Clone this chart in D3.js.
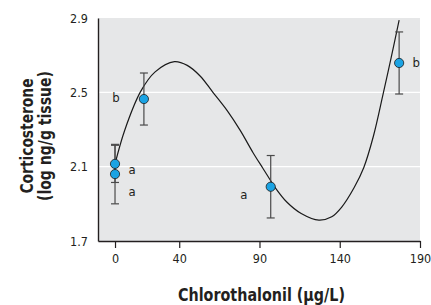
<!DOCTYPE html>
<html>
<head>
<meta charset="utf-8">
<script src="https://cdn.jsdelivr.net/npm/d3@7"></script>
<style>
  body { margin: 0; background: #fff; }
  svg text { font-family: "DejaVu Sans Condensed", "DejaVu Sans", sans-serif !important; font-stretch: condensed; }
</style>
</head>
<body>
<div id="chart"></div>
<script>
// measured points (mean +/- error) and group letters
var doseValues = [0, 0, 18, 97, 177];
var corticoValues = [2.115, 2.06, 2.464, 1.992, 2.658];
var errorValues = [0.10, 0.16, 0.14, 0.168, 0.167];
var groupLetters = ["a", "a", "b", "a", "b"];

// fitted curve
var curveDose = [0, 6, 16, 25, 37, 45, 53, 61, 70, 78, 86, 92, 100, 107, 116, 127, 135, 141, 149, 155, 161, 167, 172, 177];
var curveCortico = [2.115, 2.295, 2.505, 2.61, 2.665, 2.645, 2.588, 2.50, 2.40, 2.295, 2.175, 2.093, 1.985, 1.91, 1.848, 1.812, 1.83, 1.88, 1.988, 2.096, 2.265, 2.49, 2.685, 2.889];

var xTicks = [0, 40, 90, 140, 190];
var yTicks = [1.7, 2.1, 2.5, 2.9];

function drawChart(){
  'use strict';
  var width = 431;
  var height = 305;
  var margin = {top: 18, right: 11, bottom: 64, left: 98};
  var w = width - margin.left - margin.right;
  var h = height - margin.top - margin.bottom;

  var svg = d3.select('#chart')
    .append('svg')
    .attr('width', width)
    .attr('height', height);

  var g = svg.append('g')
    .attr('transform', 'translate(' + margin.left + ',' + margin.top + ')');

  var x = d3.scaleLinear().domain([-10.6, 190]).range([0, w]);
  var y = d3.scaleLinear().domain([1.7, 2.9]).range([h, 0]);

  // grey panel
  g.append('rect')
    .attr('width', w)
    .attr('height', h)
    .attr('fill', '#e6e7e8');

  // white gridlines
  g.selectAll('.grid')
    .data([2.1, 2.5])
    .enter().append('line')
    .attr('x1', 0).attr('x2', w)
    .attr('y1', function(d){ return y(d); })
    .attr('y2', function(d){ return y(d); })
    .attr('stroke', '#fff')
    .attr('stroke-width', 1.2);

  // x axis
  var xAxis = g.append('g')
    .attr('transform', 'translate(0,' + h + ')')
    .call(d3.axisBottom(x).tickValues(xTicks).tickSize(7).tickPadding(6).tickSizeOuter(0));
  xAxis.select('.domain').attr('stroke', '#231f20').attr('stroke-width', 1.4);
  xAxis.selectAll('.tick line').attr('stroke', '#231f20').attr('stroke-width', 1.2);
  xAxis.selectAll('.tick text')
    .attr('font-size', '12.5px')
    .attr('fill', '#231f20');

  // y axis (no tick marks)
  var yAxis = g.append('g')
    .call(d3.axisLeft(y).tickValues(yTicks).tickSize(0).tickPadding(10).tickFormat(d3.format('.1f')).tickSizeOuter(0));
  yAxis.select('.domain').attr('stroke', '#231f20').attr('stroke-width', 1.4);
  yAxis.selectAll('.tick text')
    .attr('font-size', '12.5px')
    .attr('fill', '#231f20');

  // fitted curve
  var curveData = curveDose.map(function(d, i){ return {x: d, y: curveCortico[i]}; });
  var line = d3.line()
    .x(function(d){ return x(d.x); })
    .y(function(d){ return y(d.y); })
    .curve(d3.curveCatmullRom.alpha(0.5));
  g.append('path')
    .datum(curveData)
    .attr('d', line)
    .attr('fill', 'none')
    .attr('stroke', '#1a1a1a')
    .attr('stroke-width', 1.2);

  var points = doseValues.map(function(d, i){
    return {x: d, y: corticoValues[i], e: errorValues[i], label: groupLetters[i]};
  });

  // error bars
  var capW = 4;
  var bars = g.selectAll('.err')
    .data(points)
    .enter().append('g')
    .attr('class', 'err')
    .attr('stroke', '#4a4a4a')
    .attr('stroke-width', 1.2);
  bars.append('line')
    .attr('x1', function(d){ return x(d.x); })
    .attr('x2', function(d){ return x(d.x); })
    .attr('y1', function(d){ return y(d.y + d.e); })
    .attr('y2', function(d){ return y(d.y - d.e); });
  bars.append('line')
    .attr('x1', function(d){ return x(d.x) - capW; })
    .attr('x2', function(d){ return x(d.x) + capW; })
    .attr('y1', function(d){ return y(d.y + d.e); })
    .attr('y2', function(d){ return y(d.y + d.e); });
  bars.append('line')
    .attr('x1', function(d){ return x(d.x) - capW; })
    .attr('x2', function(d){ return x(d.x) + capW; })
    .attr('y1', function(d){ return y(d.y - d.e); })
    .attr('y2', function(d){ return y(d.y - d.e); });

  // points
  g.selectAll('.pt')
    .data(points)
    .enter().append('circle')
    .attr('cx', function(d){ return x(d.x); })
    .attr('cy', function(d){ return y(d.y); })
    .attr('r', 4.6)
    .attr('fill', '#1ba3e3')
    .attr('stroke', '#1a1a1a')
    .attr('stroke-width', 0.8);

  // group letters, offsets in pixels from each point
  var labelDx = [17, 17, -28, -27, 17];
  var labelDy = [10, 22, 3, 12, 4];
  g.selectAll('.lbl')
    .data(points)
    .enter().append('text')
    .attr('x', function(d, i){ return x(d.x) + labelDx[i]; })
    .attr('y', function(d, i){ return y(d.y) + labelDy[i]; })
    .attr('text-anchor', 'middle')
    .attr('font-size', '13px')
    .attr('fill', '#231f20')
    .text(function(d){ return d.label; });

  // axis titles
  svg.append('text')
    .attr('x', 178)
    .attr('y', 300.5)
    .attr('font-size', '18px')
    .attr('font-weight', 'bold')
    .attr('fill', '#231f20')
    .attr('textLength', 167)
    .attr('lengthAdjust', 'spacingAndGlyphs')
    .text('Chlorothalonil (\u00b5g/L)');

  var yt = svg.append('text')
    .attr('transform', 'translate(0,136) rotate(-90)')
    .attr('font-size', '17.5px')
    .attr('font-weight', 'bold')
    .attr('fill', '#231f20');
  yt.append('tspan').attr('x', -57.5).attr('y', 33)
    .attr('textLength', 115).attr('lengthAdjust', 'spacingAndGlyphs')
    .text('Corticosterone');
  yt.append('tspan').attr('x', -65).attr('y', 50.5)
    .attr('textLength', 130).attr('lengthAdjust', 'spacingAndGlyphs')
    .text('(log ng/g tissue)');
}

drawChart();
</script>
</body>
</html>
